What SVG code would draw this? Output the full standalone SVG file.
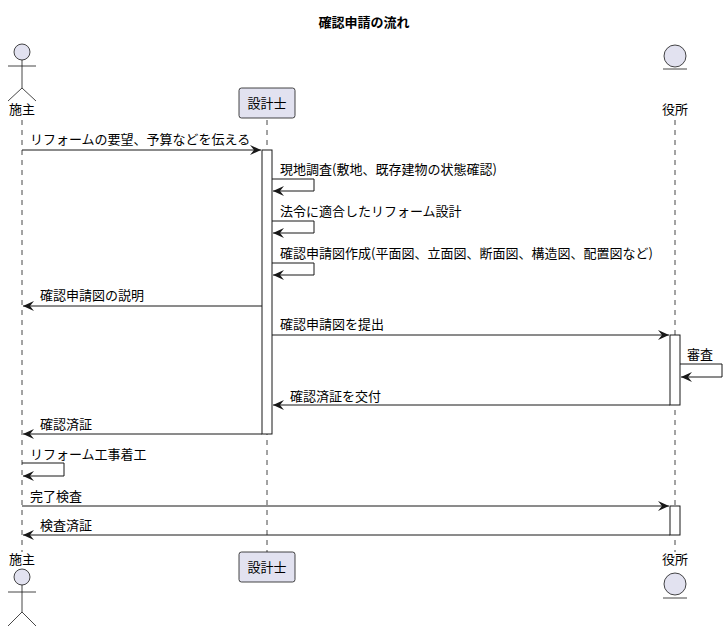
<svg xmlns="http://www.w3.org/2000/svg" width="728" height="632" viewBox="0 0 728 632">
<style>
text{font-family:"Noto Sans CJK JP","Noto Sans CJK SC",sans-serif;font-size:13px;fill:#000}
.t{font-weight:bold;font-size:13px}
.ll{stroke:#181818;stroke-width:0.8;stroke-dasharray:5,5}
.p{fill:#E2E2F0;stroke:#181818;stroke-width:0.8}
.m{stroke:#181818;stroke-width:1;fill:none;marker-end:url(#a)}
.act{fill:#fff;stroke:#181818;stroke-width:1}
.fig{stroke:#181818;stroke-width:0.8;fill:none}
</style>
<defs><marker id="a" markerWidth="12" markerHeight="10" refX="11" refY="5" orient="auto" markerUnits="userSpaceOnUse"><path d="M0,0 L11,5 L0,10 L4,5 Z" fill="#181818"/></marker></defs>
<rect width="728" height="632" fill="#fff"/>
<text class="t" x="364" y="27" text-anchor="middle">確認申請の流れ</text>
<g id="lifelines">
<line class="ll" x1="22" y1="120" x2="22" y2="552"/>
<line class="ll" x1="267" y1="120" x2="267" y2="552"/>
<line class="ll" x1="675" y1="120" x2="675" y2="552"/>
</g>
<g id="shinushi">
<circle class="p" cx="22" cy="52" r="8"/>
<path class="fig" d="M22,60 V88 M8,66 H36 M8,101 L22,88 L36,101"/>
<text x="22" y="114" text-anchor="middle">施主</text>
<text x="22" y="564" text-anchor="middle">施主</text>
<circle class="p" cx="22" cy="577" r="8"/>
<path class="fig" d="M22,585 V612 M8,592 H36 M8,626 L22,612 L36,626"/>
</g>
<g id="sekkeishi">
<rect class="p" x="239" y="88" width="56" height="30" rx="2.5"/>
<text x="267" y="108" text-anchor="middle">設計士</text>
<rect class="p" x="239" y="552" width="56" height="30" rx="2.5"/>
<text x="267" y="572" text-anchor="middle">設計士</text>
</g>
<g id="yakusho">
<circle class="p" cx="675" cy="56" r="11"/>
<line class="fig" x1="663" y1="69" x2="687" y2="69"/>
<text x="675" y="114" text-anchor="middle">役所</text>
<text x="675" y="564" text-anchor="middle">役所</text>
<circle class="p" cx="675" cy="584" r="11"/>
<line class="fig" x1="663" y1="598" x2="687" y2="598"/>
</g>
<g id="activations">
<rect class="act" x="262" y="150" width="10" height="284"/>
<rect class="act" x="670" y="335" width="10" height="70"/>
<rect class="act" x="670" y="506" width="10" height="29"/>
</g>
<g id="connectors">
<path class="m" d="M22,150 H261"/>
<path class="m" d="M272,179 H314 V191 H273"/>
<path class="m" d="M272,221 H314 V233 H273"/>
<path class="m" d="M272,263 H314 V275 H273"/>
<path class="m" d="M262,306 H23"/>
<path class="m" d="M272,335 H669"/>
<path class="m" d="M680,364 H722 V377 H681"/>
<path class="m" d="M670,405 H273"/>
<path class="m" d="M262,434 H23"/>
<path class="m" d="M22,463 H64 V476 H23"/>
<path class="m" d="M22,506 H669"/>
<path class="m" d="M670,535 H23"/>
</g>
<g id="labels">
<text x="30" y="144">リフォームの要望、予算などを伝える</text>
<text x="280" y="174">現地調査(敷地、既存建物の状態確認)</text>
<text x="280" y="216">法令に適合したリフォーム設計</text>
<text x="280" y="258">確認申請図作成(平面図、立面図、断面図、構造図、配置図など)</text>
<text x="40" y="300">確認申請図の説明</text>
<text x="280" y="329">確認申請図を提出</text>
<text x="687" y="359">審査</text>
<text x="290" y="401">確認済証を交付</text>
<text x="40" y="429">確認済証</text>
<text x="30" y="459">リフォーム工事着工</text>
<text x="30" y="501">完了検査</text>
<text x="40" y="530">検査済証</text>
</g>
</svg>
